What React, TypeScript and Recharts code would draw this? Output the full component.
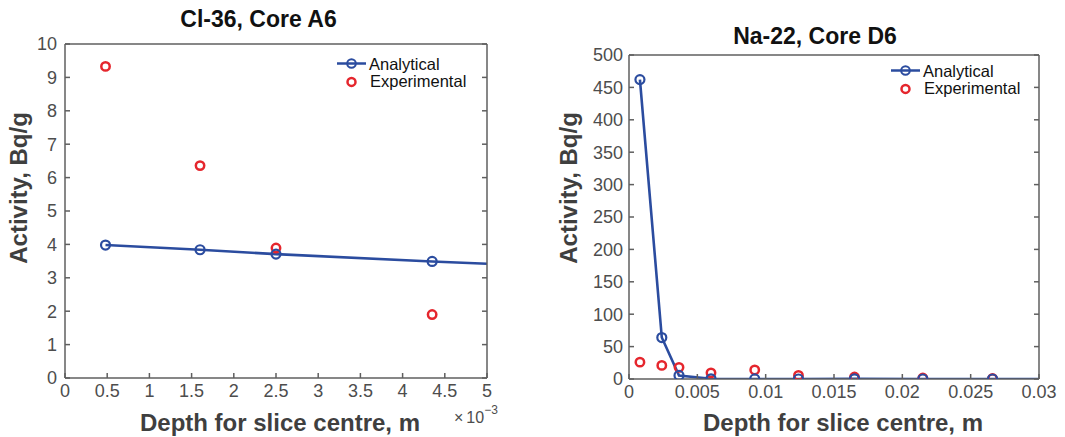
import React from 'react';
import { ComposedChart, Line, Scatter, XAxis, YAxis, Legend } from 'recharts';

const FONT = '"Liberation Sans", Arial, Helvetica, sans-serif';
const BLUE = '#2b4c9f';
const RED = '#e5262d';
const AXIS = '#5f5f5f';
const TICK_TEXT = '#4d4d4d';
const LABEL_TEXT = '#3f3f3f';

// ---- Cl-36, Core A6 (depth in units of 10^-3 m) ----
const clDepth = [0.48, 1.6, 2.5, 4.35];
const clAnalytical = [3.98, 3.84, 3.71, 3.49];
const clLineEndDepth = 5;
const clLineEndValue = 3.42;
const clExperimental = [9.33, 6.36, 3.89, 1.9];
const clXTicks = [0, 0.5, 1, 1.5, 2, 2.5, 3, 3.5, 4, 4.5, 5];
const clXTickLabels = ['0', '0.5', '1', '1.5', '2', '2.5', '3', '3.5', '4', '4.5', '5'];
const clYTicks = [0, 1, 2, 3, 4, 5, 6, 7, 8, 9, 10];

// ---- Na-22, Core D6 (depth in m) ----
const naDepth = [0.0008, 0.0024, 0.00366, 0.006, 0.0092, 0.0124, 0.0165, 0.0215, 0.0266];
const naAnalytical = [462, 64, 5.5, 0.3, 0.1, 0, 0.3, 0, 0];
const naLineEndDepth = 0.03;
const naLineEndValue = 0;
const naExperimental = [26, 21, 18, 9.5, 14, 5.5, 3, 1.5, 0.8];
const naXTicks = [0, 0.005, 0.01, 0.015, 0.02, 0.025, 0.03];
const naXTickLabels = ['0', '0.005', '0.01', '0.015', '0.02', '0.025', '0.03'];
const naYTicks = [0, 50, 100, 150, 200, 250, 300, 350, 400, 450, 500];

const seriesNames = ['Analytical', 'Experimental'];

type PanelProps = {
  left: number;
  width: number;
  height: number;
  marginTop: number;
  marginRight: number;
  yAxisWidth: number;
  xAxisHeight: number;
  yTickMargin: number;
  xTickMargin: number;
  depth: number[];
  analytical: number[];
  lineEndDepth: number;
  lineEndValue: number;
  experimental: number[];
  xTicks: number[];
  xTickLabels: string[];
  yTicks: number[];
  title: string;
  titleX: number;
  titleY: number;
  xLabelX: number;
  yLabelX: number;
  yLabelY: number;
  exponent: boolean;
  legendLeft: number;
  legendTop: number;
  legendRowGap: number;
};

const renderLegend = (rowGap: number) => () => (
  <svg width={170} height={50} style={{ overflow: 'visible', display: 'block' }}>
    <line x1={2} x2={31} y1={13.5} y2={13.5} stroke={BLUE} strokeWidth={2.5} />
    <circle cx={16.5} cy={13.5} r={4.3} fill="none" stroke={BLUE} strokeWidth={2} />
    <text x={34} y={19.5} fontFamily={FONT} fontSize={16.5} fill="#111">{seriesNames[0]}</text>
    <circle cx={16.5} cy={13.5 + rowGap} r={4} fill="none" stroke={RED} strokeWidth={2.5} />
    <text x={35} y={19.5 + rowGap - 1} fontFamily={FONT} fontSize={16.5} fill="#111">{seriesNames[1]}</text>
  </svg>
);

function Panel(p: PanelProps) {
  const lineData = p.depth
    .map((x, i) => ({ x, y: p.analytical[i] }))
    .concat([{ x: p.lineEndDepth, y: p.lineEndValue }]);
  const expData = p.depth.map((x, i) => ({ x, y: p.experimental[i] }));
  const markerCount = p.depth.length;
  const xDomain: [number, number] = [p.xTicks[0], p.xTicks[p.xTicks.length - 1]];
  const yDomain: [number, number] = [p.yTicks[0], p.yTicks[p.yTicks.length - 1]];
  const tickStyle = { fill: TICK_TEXT, fontSize: 18, fontFamily: FONT };
  const fmtX = (v: number, i: number) => {
    const idx = p.xTicks.indexOf(v);
    return idx >= 0 ? p.xTickLabels[idx] : p.xTickLabels[i];
  };

  const renderDot = (props: any) => {
    const { cx, cy, index } = props;
    if (index >= markerCount) return <g key={`d-${index}`} />;
    return (
      <circle key={`d-${index}`} cx={cx} cy={cy} r={4.5} fill="none" stroke={BLUE} strokeWidth={2.2} />
    );
  };
  const renderExp = (props: any) => (
    <circle cx={props.cx} cy={props.cy} r={4.2} fill="none" stroke={RED} strokeWidth={2.5} />
  );

  return (
    <div style={{ position: 'absolute', left: p.left, top: 0, width: p.width, height: p.height }}>
      <ComposedChart
        width={p.width}
        height={p.height}
        margin={{ top: p.marginTop - 1, right: p.marginRight - 1, bottom: 0, left: 0 }}
        style={{ fontFamily: FONT }}
      >
        <XAxis
          xAxisId="bottom"
          dataKey="x"
          type="number"
          domain={xDomain}
          ticks={p.xTicks}
          interval={0}
          allowDataOverflow
          height={p.xAxisHeight}
          tickSize={-5}
          tickMargin={p.xTickMargin}
          tickFormatter={fmtX}
          tick={tickStyle}
          stroke={AXIS}
          axisLine={{ stroke: AXIS, strokeWidth: 1.5 }}
          tickLine={{ stroke: AXIS, strokeWidth: 1.5 }}
        />
        <XAxis
          xAxisId="top"
          orientation="top"
          type="number"
          domain={xDomain}
          ticks={p.xTicks}
          interval={0}
          allowDataOverflow
          height={1}
          tickSize={-5}
          tickFormatter={() => ''}
          stroke={AXIS}
          axisLine={{ stroke: AXIS, strokeWidth: 1.5 }}
          tickLine={{ stroke: AXIS, strokeWidth: 1.5 }}
        />
        <YAxis
          yAxisId="left"
          type="number"
          domain={yDomain}
          ticks={p.yTicks}
          interval={0}
          allowDataOverflow
          width={p.yAxisWidth}
          tickSize={-5}
          tickMargin={p.yTickMargin}
          tick={tickStyle}
          stroke={AXIS}
          axisLine={{ stroke: AXIS, strokeWidth: 1.5 }}
          tickLine={{ stroke: AXIS, strokeWidth: 1.5 }}
        />
        <YAxis
          yAxisId="right"
          orientation="right"
          type="number"
          domain={yDomain}
          ticks={p.yTicks}
          interval={0}
          allowDataOverflow
          width={1}
          tickSize={-5}
          tickFormatter={() => ''}
          stroke={AXIS}
          axisLine={{ stroke: AXIS, strokeWidth: 1.5 }}
          tickLine={{ stroke: AXIS, strokeWidth: 1.5 }}
        />
        <Line
          data={lineData}
          dataKey="y"
          xAxisId="bottom"
          yAxisId="left"
          type="linear"
          stroke={BLUE}
          strokeWidth={2.6}
          dot={renderDot}
          activeDot={false}
          legendType="none"
          isAnimationActive={false}
        />
        <Scatter
          data={expData}
          dataKey="y"
          xAxisId="bottom"
          yAxisId="left"
          fill={RED}
          shape={renderExp}
          legendType="none"
          isAnimationActive={false}
        />
        <Legend
          layout="vertical"
          align="center"
          verticalAlign="middle"
          content={renderLegend(p.legendRowGap)}
          wrapperStyle={{ left: p.legendLeft, top: p.legendTop, width: 170, height: 50 }}
        />
        <text
          x={p.titleX}
          y={p.titleY}
          textAnchor="middle"
          fontFamily={FONT}
          fontWeight="bold"
          fontSize={23}
          fill="#111"
        >
          {p.title}
        </text>
        <text
          x={p.xLabelX}
          y={431}
          textAnchor="middle"
          fontFamily={FONT}
          fontWeight="bold"
          fontSize={24}
          fill={LABEL_TEXT}
        >
          Depth for slice centre, m
        </text>
        <text
          x={p.yLabelX}
          y={p.yLabelY}
          textAnchor="middle"
          transform={`rotate(-90, ${p.yLabelX}, ${p.yLabelY})`}
          fontFamily={FONT}
          fontWeight="bold"
          fontSize={24}
          fill={LABEL_TEXT}
        >
          Activity, Bq/g
        </text>
        {p.exponent ? (
          <text x={454} y={423} fontFamily={FONT} fontSize={16} fill={TICK_TEXT}>
            ×<tspan dx={3}>10</tspan>
            <tspan dy={-9} fontSize={12}>−3</tspan>
          </text>
        ) : null}
      </ComposedChart>
    </div>
  );
}

export default function App() {
  return (
    <div style={{ position: 'absolute', left: 0, top: 0, width: 1065, height: 437, background: '#fff' }}>
      <Panel
        left={0}
        width={530}
        height={437}
        marginTop={44}
        marginRight={43}
        yAxisWidth={65}
        xAxisHeight={59}
        yTickMargin={13}
        xTickMargin={11}
        depth={clDepth}
        analytical={clAnalytical}
        lineEndDepth={clLineEndDepth}
        lineEndValue={clLineEndValue}
        experimental={clExperimental}
        xTicks={clXTicks}
        xTickLabels={clXTickLabels}
        yTicks={clYTicks}
        title="Cl-36, Core A6"
        titleX={258.5}
        titleY={27}
        xLabelX={280}
        yLabelX={27.2}
        yLabelY={188}
        exponent={true}
        legendLeft={335}
        legendTop={50}
        legendRowGap={18.4}
      />
      <Panel
        left={530}
        width={535}
        height={437}
        marginTop={55}
        marginRight={26}
        yAxisWidth={99}
        xAxisHeight={58}
        yTickMargin={11}
        xTickMargin={11}
        depth={naDepth}
        analytical={naAnalytical}
        lineEndDepth={naLineEndDepth}
        lineEndValue={naLineEndValue}
        experimental={naExperimental}
        xTicks={naXTicks}
        xTickLabels={naXTickLabels}
        yTicks={naYTicks}
        title="Na-22, Core D6"
        titleX={285}
        titleY={44}
        xLabelX={313}
        yLabelX={47.2}
        yLabelY={188}
        exponent={false}
        legendLeft={359}
        legendTop={57}
        legendRowGap={18.4}
      />
    </div>
  );
}
